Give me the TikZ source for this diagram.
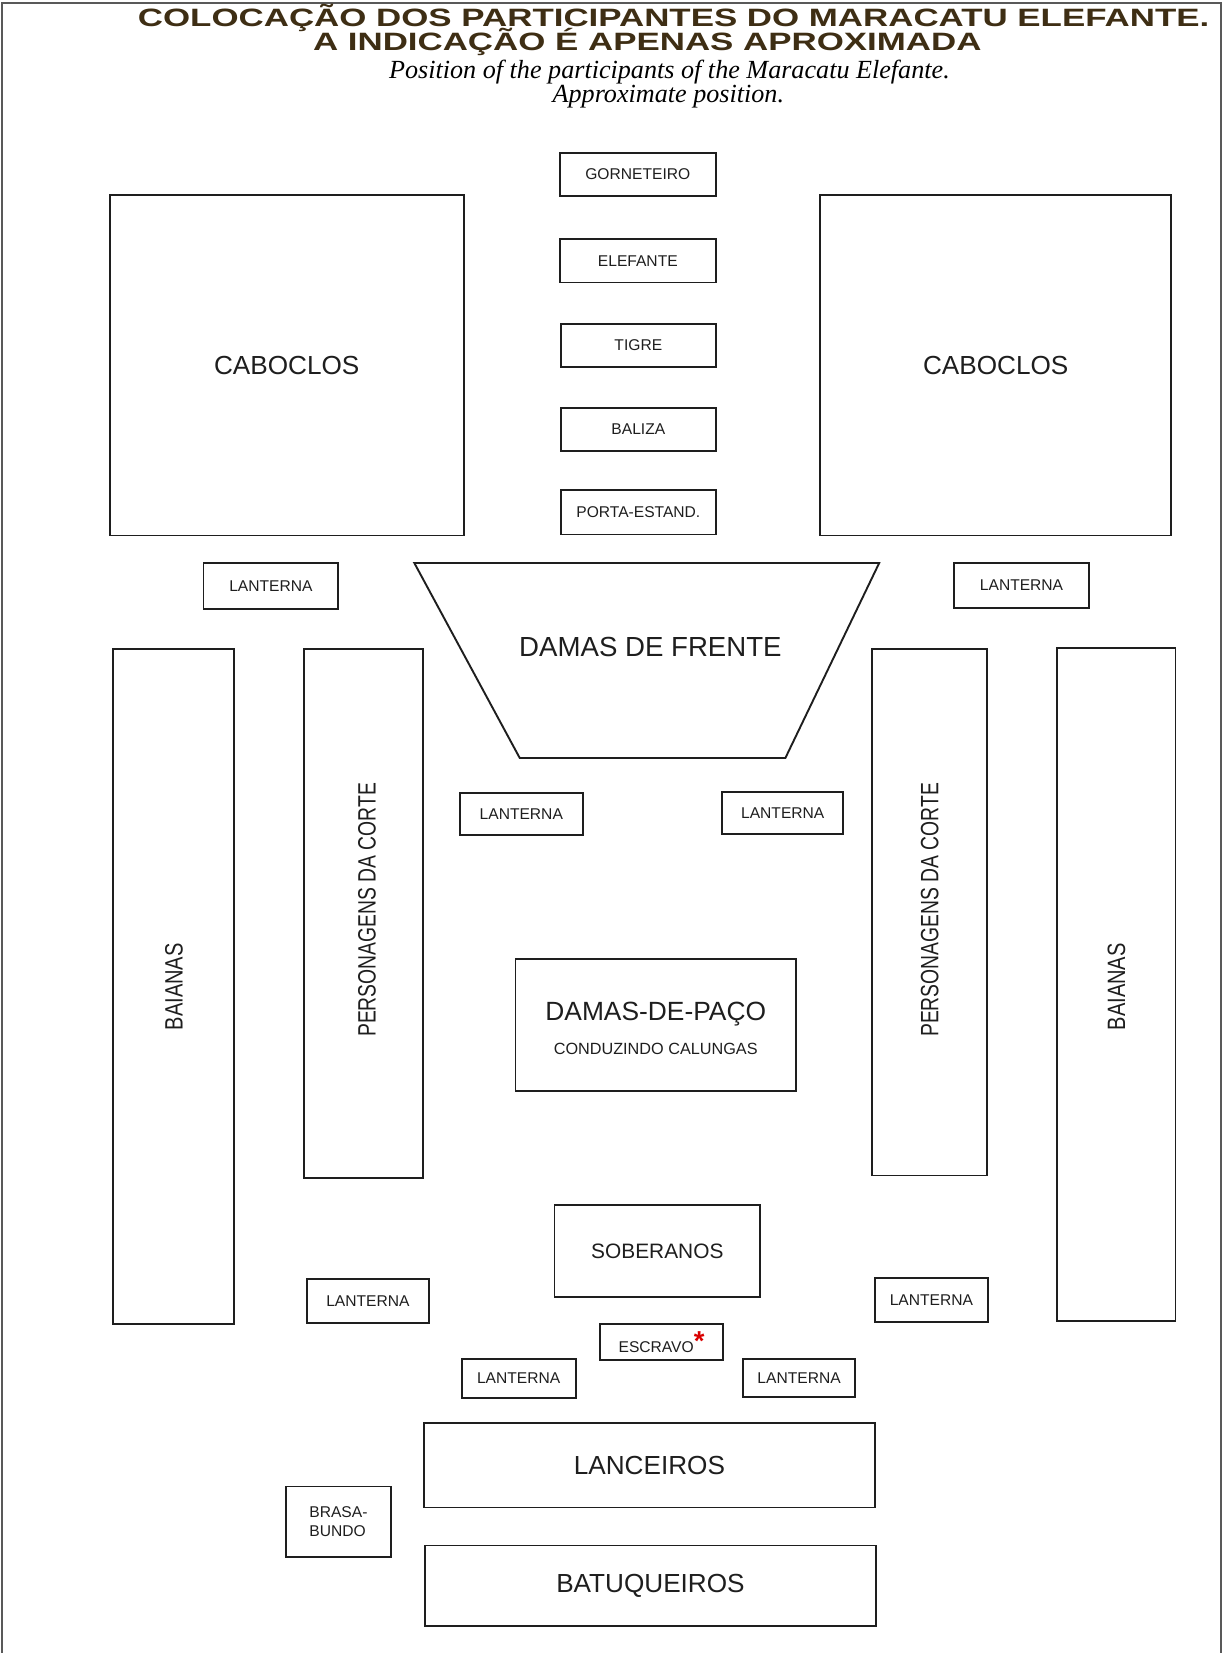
\documentclass[tikz,border=0pt]{standalone}
\usepackage{fontspec}
\setmainfont{Liberation Sans}
\newfontfamily\condfont[FakeStretch=0.77]{Liberation Sans}
\newfontfamily\baifont[FakeStretch=0.8]{Liberation Sans}
\newfontfamily\titlefont[FakeStretch=1.39]{Liberation Sans Bold}
\newfontfamily\capfont{Liberation Serif Italic}
\definecolor{titlebrown}{RGB}{62,46,20}
\definecolor{ink}{RGB}{30,30,30}
\begin{document}
\begin{tikzpicture}[x=0.5pt,y=-0.5pt,
  box/.style={draw=ink, line width=0.9pt, inner sep=0pt, text=ink},
  edge/.style={draw=ink, line width=0.9pt},
  lbl/.style={text=ink, inner sep=0pt},
  sz/.style 2 args={minimum width=#1*0.5pt, minimum height=#2*0.5pt},
  tiny/.style={font=\fontsize{7.4}{9}\selectfont},
  mid/.style={font=\fontsize{9.9}{12}\selectfont},
  big/.style={font=\fontsize{12.4}{15}\selectfont},
  frente/.style={font=\fontsize{13.1}{15}\selectfont},
  pers/.style={font=\condfont\fontsize{11.9}{14}\selectfont},
  baia/.style={font=\baifont\fontsize{11.9}{14}\selectfont},
  ttl/.style={font=\titlefont\fontsize{11.9}{14}\selectfont, text=titlebrown, inner sep=0pt},
  capt/.style={font=\capfont\fontsize{12.4}{15}\selectfont, text=black, inner sep=0pt}]
\useasboundingbox (0,0) rectangle (1160,1568);
% frame
\draw[black!65, line width=0.8pt] (2,1568) -- (2,3) -- (1158,3) -- (1158,1568);
% titles
\node[ttl] (t1) at (639,17) {COLOCAÇÃO DOS PARTICIPANTES DO MARACATU ELEFANTE.};
\node[ttl] (t2) at (614,40) {A INDICAÇÃO É APENAS APROXIMADA};
\node[capt] (c1) at (635,68) {Position of the participants of the Maracatu Elefante.};
\node[capt] (c2) at (634,92) {Approximate position.};
% centre column
\node[box,tiny,sz={148}{41}] (gorn) at (605,165.5) {GORNETEIRO};
\node[box,tiny,sz={148}{41}] (elef) at (605,247.5) {ELEFANTE};
\node[box,tiny,sz={147}{41}] (tigre) at (605.5,327.5) {TIGRE};
\node[box,tiny,sz={147}{41}] (baliza) at (605.5,407.5) {BALIZA};
\node[box,tiny,sz={147}{42}] (porta) at (605.5,486) {PORTA-ESTAND.};
% caboclos
\node[box,big,sz={336}{323}] (cabL) at (272,346.5) {CABOCLOS};
\node[box,big,sz={333}{323}] (cabR) at (944.5,346.5) {CABOCLOS};
% lanterns top
\node[box,tiny,sz={128}{44}] (lantTL) at (257,556) {LANTERNA};
\node[box,tiny,sz={128}{43}] (lantTR) at (969,555.5) {LANTERNA};
% damas de frente
\draw[edge] (393,534) -- (834,534) -- (745,719) -- (493,719) -- cycle;
\node[lbl,frente] (frenteT) at (617,614) {DAMAS DE FRENTE};
% columns
\node[box,sz={115}{640}] (baiL) at (164.5,936) {};
\node[lbl,baia,rotate=90] (baiLt) at (165,936) {BAIANAS};
\node[box,sz={113}{501}] (persL) at (344.5,866.5) {};
\node[lbl,pers,rotate=90] (persLt) at (348,863) {PERSONAGENS DA CORTE};
\node[box,sz={109}{499}] (persR) at (881.5,865.5) {};
\node[lbl,pers,rotate=90] (persRt) at (882,863) {PERSONAGENS DA CORTE};
\node[box,sz={112}{638}] (baiR) at (1059,934) {};
\node[lbl,baia,rotate=90] (baiRt) at (1059,936) {BAIANAS};
% middle lanterns
\node[box,tiny,sz={117}{40}] (lantML) at (494.5,772) {LANTERNA};
\node[box,tiny,sz={115}{40}] (lantMR) at (742.5,771) {LANTERNA};
% damas de paco
\node[box,sz={266}{125}] (paco) at (622,972.5) {};
\node[lbl,font=\fontsize{12.5}{15}\selectfont] (pacoT) at (622,962) {DAMAS-DE-PAÇO};
\node[lbl,font=\fontsize{7.7}{9}\selectfont] (pacoS) at (622,995) {CONDUZINDO CALUNGAS};
% soberanos
\node[box,mid,sz={195}{87}] (sob) at (623.5,1186.5) {SOBERANOS};
\node[box,tiny,sz={116}{42}] (lantLL) at (349,1234) {LANTERNA};
\node[box,tiny,sz={107}{42}] (lantLR) at (883.5,1233) {LANTERNA};
\node[box,tiny,sz={117}{34}] (escr) at (627.5,1273) {ESCRAVO\textcolor{red!85!black}{\raisebox{0.2ex}{\fontsize{13}{13}\selectfont\bfseries *}}};
\node[box,tiny,sz={108}{37}] (lantBL) at (492,1307.5) {LANTERNA};
\node[box,tiny,sz={106}{36}] (lantBR) at (758,1307) {LANTERNA};
% bottom
\node[box,big,sz={428}{80}] (lanc) at (616,1390) {LANCEIROS};
\node[box,tiny,sz={100}{67},align=left] (brasa) at (321,1443.5) {BRASA-\\BUNDO};
\node[box,big,sz={428}{76}] (batu) at (617,1504) {BATUQUEIROS};
\end{tikzpicture}
\end{document}
